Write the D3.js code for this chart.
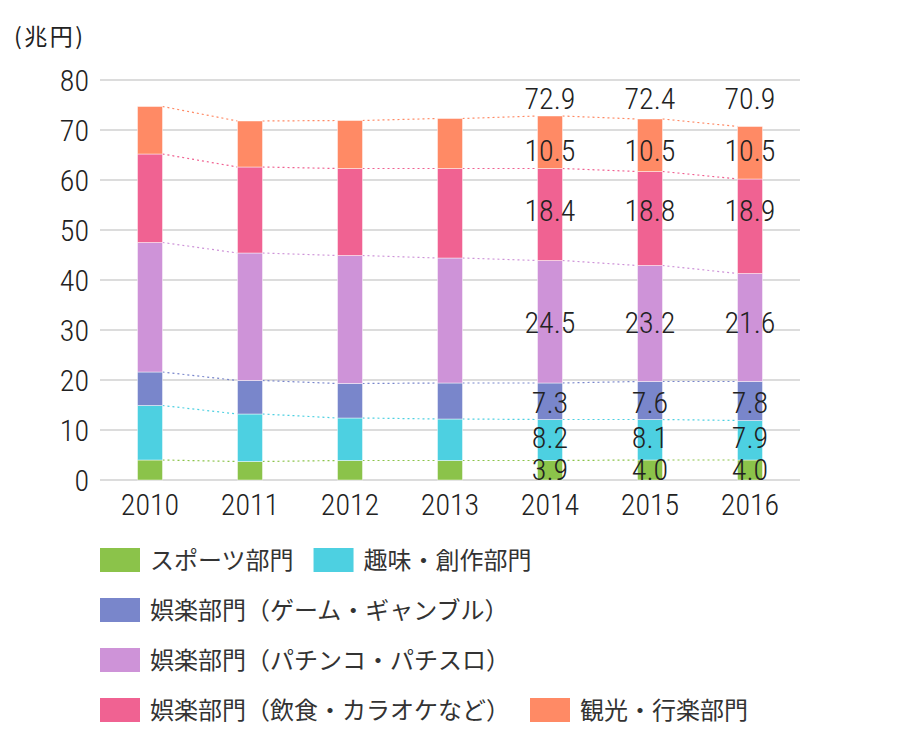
<!DOCTYPE html>
<html><head><meta charset="utf-8">
<script src="https://cdn.jsdelivr.net/npm/d3@7"></script>
<style>
body{margin:0;background:#fff;}
svg{display:block;}
</style></head>
<body>
<svg id="chart" width="900" height="750"></svg>
<script>
const years = ["2010","2011","2012","2013","2014","2015","2016"];
const seriesNames = ["スポーツ部門","趣味・創作部門","娯楽部門（ゲーム・ギャンブル）","娯楽部門（パチンコ・パチスロ）","娯楽部門（飲食・カラオケなど）","観光・行楽部門"];
const sports   = [4.0, 3.7, 3.9, 3.9, 3.9, 4.0, 4.0];
const hobby    = [10.9, 9.5, 8.5, 8.3, 8.2, 8.1, 7.9];
const gaming   = [6.7, 6.7, 6.9, 7.2, 7.3, 7.6, 7.8];
const pachinko = [25.9, 25.5, 25.6, 25.0, 24.5, 23.2, 21.6];
const dining   = [17.7, 17.2, 17.4, 17.9, 18.4, 18.8, 18.9];
const tourism  = [9.5, 9.2, 9.6, 10.0, 10.5, 10.5, 10.5];
const totalLabels = [null, null, null, null, "72.9", "72.4", "70.9"];
const valueLabels = [
  [null,null,null,null,"3.9","4.0","4.0"],
  [null,null,null,null,"8.2","8.1","7.9"],
  [null,null,null,null,"7.3","7.6","7.8"],
  [null,null,null,null,"24.5","23.2","21.6"],
  [null,null,null,null,"18.4","18.8","18.9"],
  [null,null,null,null,"10.5","10.5","10.5"]
];
const yTicks = [0,10,20,30,40,50,60,70,80];
const colors = ["#8BC34A","#4DD0E1","#7986CB","#CE93D8","#F06292","#FF8A65"];
const legendRows = [[0,1],[2],[3],[4,5]];

const allSeries = [sports, hobby, gaming, pachinko, dining, tourism];
const numFont = "'Roboto Condensed',Roboto,sans-serif";
const numWeight = 300;
const jpFont = "'Noto Sans CJK JP','Noto Sans',sans-serif";
const textColor = "#222";

const svg = d3.select("#chart");
const x = d3.scaleBand().domain(years).range([100, 800]).paddingInner(0.75).paddingOuter(0.375);
const y = d3.scaleLinear().domain([0, 80]).range([480, 80]);

// gridlines
svg.append("g").selectAll("line").data(yTicks).join("line")
  .attr("x1", 100).attr("x2", 800)
  .attr("y1", d => y(d)).attr("y2", d => y(d))
  .attr("stroke", "#dcdcdc").attr("stroke-width", 2);

// y axis
const yAxis = d3.axisLeft(y).tickValues(yTicks).tickSize(0).tickPadding(0);
const gy = svg.append("g").attr("transform", "translate(89,0)").call(yAxis);
gy.select(".domain").remove();
gy.selectAll("text").attr("font-family", numFont).attr("font-weight", numWeight)
  .attr("font-size", 30).attr("fill", textColor).attr("dy", "0.36em");

// x axis
const xAxis = d3.axisBottom(x).tickSize(0).tickPadding(0);
const gx = svg.append("g").attr("transform", "translate(0,492)").call(xAxis);
gx.select(".domain").remove();
gx.selectAll("text").attr("font-family", numFont).attr("font-weight", numWeight)
  .attr("font-size", 30).attr("fill", textColor).attr("dy", "0.75em");

// unit label
svg.append("text").attr("x", 14).attr("y", 45)
  .attr("font-family", jpFont).attr("font-size", 23).attr("fill", textColor)
  .attr("letter-spacing", 2.5)
  .text("(兆円)");

// stack
const rows = years.map((yr, i) => {
  const r = {year: yr};
  allSeries.forEach((s, k) => r["s" + k] = s[i]);
  return r;
});
const keys = allSeries.map((s, k) => "s" + k);
const stacked = d3.stack().keys(keys)(rows);

// connector lines
const lines = svg.append("g");
stacked.forEach((layer, k) => {
  for (let i = 0; i < years.length - 1; i++) {
    lines.append("line")
      .attr("x1", x(years[i]) + x.bandwidth()).attr("y1", y(layer[i][1]))
      .attr("x2", x(years[i + 1])).attr("y2", y(layer[i + 1][1]))
      .attr("stroke", colors[k]).attr("stroke-width", 1.2)
      .attr("stroke-dasharray", "2,3");
  }
});

// bars
const bars = svg.append("g");
stacked.forEach((layer, k) => {
  bars.selectAll(null).data(layer).join("rect")
    .attr("x", d => x(d.data.year))
    .attr("y", d => y(d[1]))
    .attr("width", x.bandwidth())
    .attr("height", d => y(d[0]) - y(d[1]))
    .attr("fill", colors[k])
    .attr("stroke", "#fff").attr("stroke-opacity", 0.45).attr("stroke-width", 1);
});

// value labels (row y aligned on the 2014 segment)
const refIdx = 4;
const labelNudge = [-1, -3, 1, 0, -4, 8];
const labels = svg.append("g");
stacked.forEach((layer, k) => {
  const ly = y((layer[refIdx][0] + layer[refIdx][1]) / 2) + labelNudge[k];
  years.forEach((yr, i) => {
    if (!valueLabels[k][i]) return;
    labels.append("text")
      .attr("x", x(yr) + x.bandwidth() / 2).attr("y", ly)
      .attr("dy", "0.36em").attr("text-anchor", "middle")
      .attr("font-family", numFont).attr("font-weight", numWeight)
      .attr("font-size", 30).attr("fill", textColor)
      .text(valueLabels[k][i]);
  });
});
// total labels
const topStack = stacked[stacked.length - 1];
const maxTop = d3.max(topStack.filter((d, i) => totalLabels[i]), d => d[1]);
years.forEach((yr, i) => {
  if (!totalLabels[i]) return;
  labels.append("text")
    .attr("x", x(yr) + x.bandwidth() / 2).attr("y", y(maxTop) - 7)
    .attr("text-anchor", "middle")
    .attr("font-family", numFont).attr("font-weight", numWeight)
    .attr("font-size", 30).attr("fill", textColor)
    .text(totalLabels[i]);
});

// legend
const legend = svg.append("g");
legendRows.forEach((row, r) => {
  let lx = 100;
  const cy = 560 + r * 50;
  row.forEach(k => {
    legend.append("rect").attr("x", lx).attr("y", cy - 12).attr("width", 40).attr("height", 24).attr("fill", colors[k]);
    const t = legend.append("text").attr("x", lx + 50).attr("y", cy).attr("dy", "0.36em")
      .attr("font-family", jpFont).attr("font-size", 24).attr("fill", "#333")
      .text(seriesNames[k]);
    lx += 50 + t.node().getComputedTextLength() + 20;
  });
});
</script>
</body></html>
